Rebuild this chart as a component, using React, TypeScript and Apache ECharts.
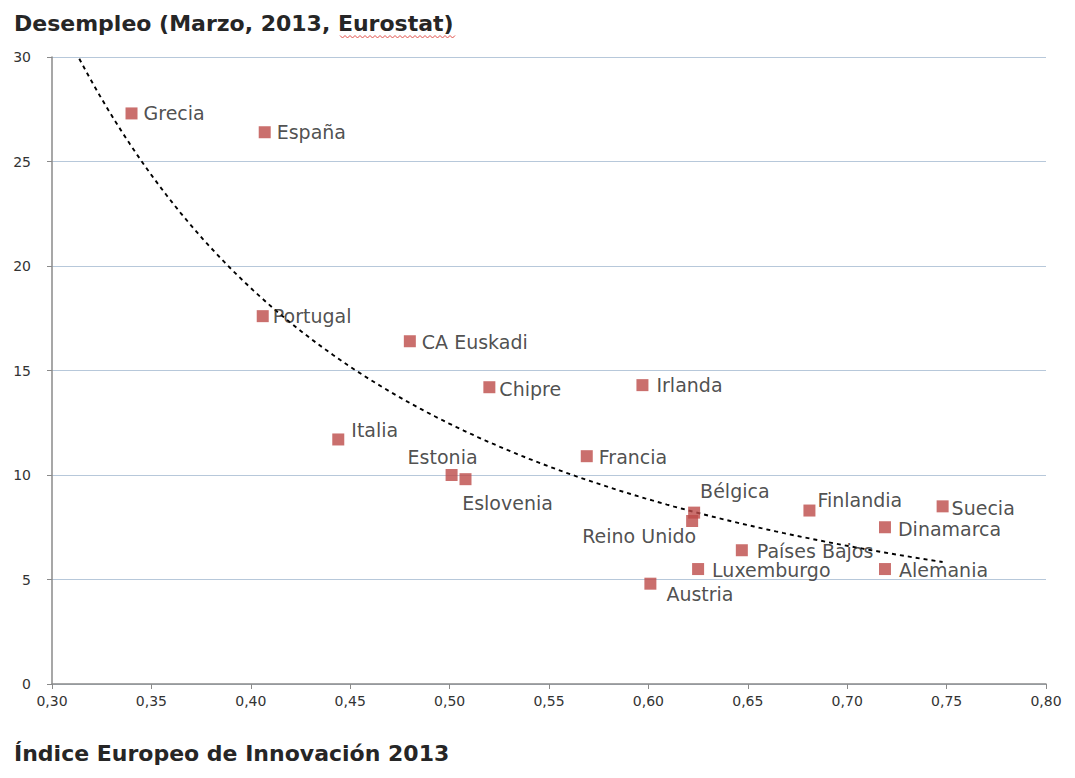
import React, { useEffect, useRef } from "react";
import * as echarts from "echarts";

const countries = [
  "Grecia", "España", "Portugal", "CA Euskadi", "Chipre", "Irlanda", "Italia",
  "Estonia", "Eslovenia", "Francia", "Bélgica", "Reino Unido", "Finlandia",
  "Suecia", "Dinamarca", "Países Bajos", "Luxemburgo", "Austria", "Alemania",
];
const innovationIndex = [
  0.340, 0.407, 0.406, 0.480, 0.520, 0.597, 0.444,
  0.501, 0.508, 0.569, 0.623, 0.622, 0.681,
  0.748, 0.719, 0.647, 0.625, 0.601, 0.719,
];
const unemployment = [
  27.3, 26.4, 17.6, 16.4, 14.2, 14.3, 11.7,
  10.0, 9.8, 10.9, 8.2, 7.8, 8.3,
  8.5, 7.5, 6.4, 5.5, 4.8, 5.5,
];
const xTicks = [0.3, 0.35, 0.4, 0.45, 0.5, 0.55, 0.6, 0.65, 0.7, 0.75, 0.8];
const yTicks = [0, 5, 10, 15, 20, 25, 30];
const trendBackwardForecast = 0.03;

// label placement per country (position, offset)
const labelPlacement: Record<string, { position: string; offset: number[] }> = {
  "Grecia": { position: "right", offset: [1, 0] },
  "España": { position: "right", offset: [1, 0] },
  "Portugal": { position: "right", offset: [-1, 0] },
  "CA Euskadi": { position: "right", offset: [1, 1] },
  "Chipre": { position: "right", offset: [-1, 2] },
  "Irlanda": { position: "right", offset: [3, 0] },
  "Italia": { position: "right", offset: [2, -9] },
  "Estonia": { position: "top", offset: [-9, 2] },
  "Eslovenia": { position: "bottom", offset: [42, 3] },
  "Francia": { position: "right", offset: [1, 1] },
  "Bélgica": { position: "right", offset: [-5, -22] },
  "Reino Unido": { position: "left", offset: [15, 15] },
  "Finlandia": { position: "right", offset: [-3, -11] },
  "Suecia": { position: "right", offset: [-2, 2] },
  "Dinamarca": { position: "right", offset: [2, 2] },
  "Países Bajos": { position: "right", offset: [4, 1] },
  "Luxemburgo": { position: "right", offset: [3, 1] },
  "Austria": { position: "right", offset: [5, 10] },
  "Alemania": { position: "right", offset: [3, 1] },
};

function powerFit(xs: number[], ys: number[]) {
  const n = xs.length;
  const lx = xs.map(Math.log);
  const ly = ys.map(Math.log);
  const mx = lx.reduce((a, b) => a + b, 0) / n;
  const my = ly.reduce((a, b) => a + b, 0) / n;
  let sxy = 0, sxx = 0;
  for (let i = 0; i < n; i++) {
    sxy += (lx[i] - mx) * (ly[i] - my);
    sxx += (lx[i] - mx) * (lx[i] - mx);
  }
  const b = sxy / sxx;
  const a = Math.exp(my - b * mx);
  return { a, b };
}

export default function App() {
  const ref = useRef<HTMLDivElement>(null);
  useEffect(() => {
    if (!ref.current) return;
    const chart = echarts.init(ref.current, null, { renderer: "svg" });
    const { a, b } = powerFit(innovationIndex, unemployment);
    const xMin = Math.min(...innovationIndex) - trendBackwardForecast;
    const xMax = Math.max(...innovationIndex);
    const trend: number[][] = [];
    const steps = 120;
    for (let i = 0; i <= steps; i++) {
      const x = xMin + ((xMax - xMin) * i) / steps;
      trend.push([x, a * Math.pow(x, b)]);
    }
    const font = "'DejaVu Sans', 'Noto Sans', sans-serif";
    const points = countries.map((c, i) => ({
      name: c,
      value: [innovationIndex[i], unemployment[i]],
      label: { position: labelPlacement[c].position, offset: labelPlacement[c].offset },
    }));
    // red spell-check squiggle under "Eurostat" in the title
    const squiggle: number[][] = [];
    for (let i = 0; i <= 46; i++) {
      squiggle.push([340 + i * 2.5, i % 2 === 0 ? 35.5 : 38]);
    }
    chart.setOption({
      animation: false,
      backgroundColor: "#ffffff",
      grid: { left: 52, right: 29, top: 57, bottom: 94, containLabel: false },
      title: [
        {
          text: "Desempleo (Marzo, 2013, Eurostat)",
          left: 9, top: 7,
          textStyle: { fontSize: 22, fontWeight: "bold", color: "#262626", fontFamily: font },
        },
        {
          text: "Índice Europeo de Innovación 2013",
          left: 9, top: 737,
          textStyle: { fontSize: 22, fontWeight: "bold", color: "#262626", fontFamily: font },
        },
      ],
      graphic: [
        {
          type: "polyline",
          shape: { points: squiggle },
          style: { stroke: "#e0504a", lineWidth: 1, fill: null },
          silent: true,
        },
      ],
      xAxis: {
        type: "value",
        min: xTicks[0],
        max: xTicks[xTicks.length - 1],
        interval: 0.05,
        axisLine: { show: true, onZero: false, lineStyle: { color: "#8a8a8a", width: 1.5 } },
        axisTick: { show: true, length: 5, lineStyle: { color: "#8a8a8a" } },
        axisLabel: {
          margin: 10,
          fontSize: 14,
          color: "#333",
          fontFamily: font,
          formatter: (v: number) => v.toFixed(2).replace(".", ","),
        },
        splitLine: { show: false },
      },
      yAxis: {
        type: "value",
        min: yTicks[0],
        max: yTicks[yTicks.length - 1],
        interval: 5,
        axisLine: { show: true, lineStyle: { color: "#8a8a8a", width: 1.5 } },
        axisTick: { show: true, length: 5, lineStyle: { color: "#8a8a8a" } },
        axisLabel: { margin: 21, fontSize: 14, color: "#333", fontFamily: font },
        splitLine: { show: true, lineStyle: { color: "#b7c8da", width: 1 } },
      },
      series: [
        {
          type: "line",
          data: trend,
          showSymbol: false,
          symbol: "none",
          clip: true,
          lineStyle: { color: "#000", width: 1.9, type: [4, 4] },
          z: 3,
          silent: true,
        },
        {
          type: "scatter",
          symbol: "rect",
          symbolSize: 12,
          itemStyle: { color: "#bd4b48" },
          data: points,
          z: 4,
          label: {
            show: true,
            formatter: "{b}",
            fontSize: 19,
            color: "#222",
            fontFamily: font,
            distance: 5,
          },
        },
      ],
    });
    return () => chart.dispose();
  }, []);
  return (
    <div
      ref={ref}
      style={{ position: "absolute", left: 0, top: 0, width: 1075, height: 778 }}
    />
  );
}
